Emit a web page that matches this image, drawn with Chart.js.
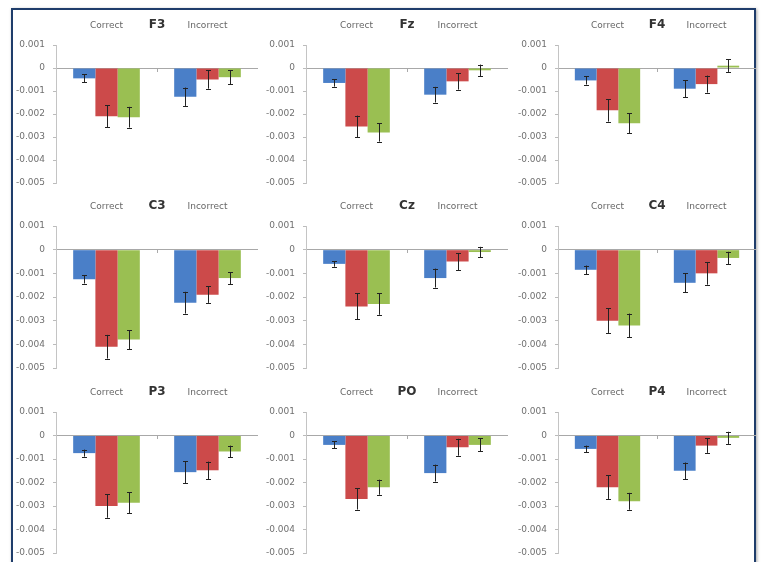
<!DOCTYPE html>
<html>
<head>
<meta charset="utf-8">
<script src="https://cdn.jsdelivr.net/npm/chart.js@4"></script>
<style>
  body { margin: 0; background: #fff; width: 763px; height: 562px; overflow: hidden; position: relative; }
  #frame { position: absolute; left: 11px; top: 8px; width: 741px; height: 600px;
           border: 2px solid #1f3d6b; border-bottom: none; box-shadow: 1px 1px 3px rgba(0,0,0,0.35); }
  canvas { position: absolute; }
</style>
</head>
<body>
<div id="frame"></div>
<script>
// panels, left to right and top to bottom
const electrodes = ['F3', 'Fz', 'F4', 'C3', 'Cz', 'C4', 'P3', 'PO', 'P4'];
const conditions = ['Correct', 'Incorrect'];
const seriesNames = ['Series 1', 'Series 2', 'Series 3'];
const yTicks = [0.001, 0, -0.001, -0.002, -0.003, -0.004, -0.005];

// [Correct, Incorrect] for each electrode
const blueMean = [[-0.00045, -0.00125], [-0.00065, -0.00116], [-0.00054, -0.0009],
                  [-0.00125, -0.00224], [-0.0006, -0.0012], [-0.00085, -0.0014],
                  [-0.00075, -0.00156], [-0.0004, -0.0016], [-0.00057, -0.0015]];
const redMean = [[-0.0021, -0.0005], [-0.00254, -0.00058], [-0.00184, -0.0007],
                 [-0.0041, -0.0019], [-0.0024, -0.0005], [-0.003, -0.001],
                 [-0.003, -0.00148], [-0.0027, -0.0005], [-0.0022, -0.00043]];
const greenMean = [[-0.00214, -0.0004], [-0.0028, -0.0001], [-0.0024, 0.0001],
                   [-0.0038, -0.0012], [-0.0023, -0.0001], [-0.0032, -0.00035],
                   [-0.00286, -0.00068], [-0.0022, -0.0004], [-0.0028, -0.0001]];
const blueErr = [[0.00017, 0.0004], [0.00016, 0.00034], [0.00018, 0.00037],
                 [0.00018, 0.00046], [0.00012, 0.0004], [0.00018, 0.0004],
                 [0.00015, 0.00046], [0.00015, 0.00036], [0.00014, 0.00035]];
const redErr = [[0.00048, 0.0004], [0.00047, 0.00036], [0.00049, 0.00037],
                [0.0005, 0.00035], [0.00055, 0.00036], [0.00052, 0.00048],
                [0.0005, 0.00037], [0.00045, 0.00036], [0.0005, 0.00031]];
const greenErr = [[0.00045, 0.0003], [0.0004, 0.00025], [0.00044, 0.00027],
                  [0.0004, 0.00025], [0.00045, 0.00022], [0.0005, 0.00026],
                  [0.00044, 0.00025], [0.00032, 0.00028], [0.00036, 0.00026]];

const colors = ['#4a7fc8', '#cc4a4a', '#9abf52'];

// grid placement of the plot areas
const colAxisX = [56, 306, 558];
const colRight = [258, 508, 756];
const rowTop = [45, 226, 412];
const rowBottom = [183, 368, 553];
const PAD_TOP = 34, PAD_BOTTOM = 8, Y_W = 52;

const errorBars = {
  id: 'errorBars',
  afterDatasetsDraw(chart) {
    const { ctx } = chart;
    const y = chart.scales.y;
    ctx.save();
    ctx.strokeStyle = '#222';
    ctx.lineWidth = 1;
    chart.data.datasets.forEach((ds, i) => {
      chart.getDatasetMeta(i).data.forEach((bar, j) => {
        const v = ds.data[j], e = ds.errors[j];
        const top = y.getPixelForValue(v + e), bot = y.getPixelForValue(v - e);
        const x = Math.round(bar.x) + 0.5;
        ctx.beginPath();
        ctx.moveTo(x, top); ctx.lineTo(x, bot);
        ctx.moveTo(x - 2.5, Math.round(top) + 0.5); ctx.lineTo(x + 2.5, Math.round(top) + 0.5);
        ctx.moveTo(x - 2.5, Math.round(bot) + 0.5); ctx.lineTo(x + 2.5, Math.round(bot) + 0.5);
        ctx.stroke();
      });
    });
    ctx.restore();
  }
};

const headers = {
  id: 'headers',
  afterDraw(chart, args, opts) {
    const { ctx, chartArea } = chart;
    const x = chart.scales.x;
    const ty = chartArea.top - 19;
    ctx.save();
    ctx.textAlign = 'center';
    ctx.textBaseline = 'middle';
    ctx.fillStyle = '#666';
    ctx.font = '9px "DejaVu Sans"';
    conditions.forEach((c, i) => ctx.fillText(c, x.getPixelForValue(i), ty));
    ctx.fillStyle = '#333';
    ctx.font = 'bold 12px "DejaVu Sans"';
    ctx.fillText(opts.name, (chartArea.left + chartArea.right) / 2, ty - 1);
    ctx.restore();
  }
};

const means = [blueMean, redMean, greenMean];
const errs = [blueErr, redErr, greenErr];

electrodes.forEach((name, k) => {
  const c = k % 3, r = Math.floor(k / 3);
  const left = colAxisX[c] - Y_W;
  const top = rowTop[r] - PAD_TOP;
  const w = colRight[c] - left;
  const h = rowBottom[r] - rowTop[r] + PAD_TOP + PAD_BOTTOM;
  const cv = document.createElement('canvas');
  cv.width = w; cv.height = h;
  cv.style.left = left + 'px'; cv.style.top = top + 'px';
  document.body.appendChild(cv);

  new Chart(cv, {
    type: 'bar',
    data: {
      labels: conditions,
      datasets: seriesNames.map((s, i) => ({
        label: s,
        data: means[i][k],
        errors: errs[i][k],
        backgroundColor: colors[i],
        borderWidth: 0,
        barPercentage: 1,
        categoryPercentage: 0.66
      }))
    },
    options: {
      responsive: false,
      animation: false,
      layout: { padding: { top: PAD_TOP, bottom: PAD_BOTTOM, left: 0, right: 0 } },
      plugins: { legend: { display: false }, tooltip: { enabled: false }, headers: { name } },
      scales: {
        x: {
          position: { y: 0 },
          ticks: { display: false },
          grid: { drawOnChartArea: false, drawTicks: true, tickLength: 3, color: '#aaa' },
          border: { color: '#a8a8a8' }
        },
        y: {
          min: -0.005, max: 0.001,
          afterBuildTicks: s => { s.ticks = yTicks.map(v => ({ value: v })); },
          afterFit: s => { s.width = Y_W; s.paddingTop = 0; s.paddingBottom = 0; },
          ticks: {
            color: '#707070',
            padding: 8,
            font: { family: 'DejaVu Sans', size: 9 },
            callback: v => Math.abs(v) < 1e-9 ? '0' : v.toFixed(3)
          },
          grid: { drawOnChartArea: false, drawTicks: true, tickLength: 3, color: '#bbb' },
          border: { color: '#c4c4c4' }
        }
      }
    },
    plugins: [errorBars, headers]
  });
});
</script>
</body>
</html>
